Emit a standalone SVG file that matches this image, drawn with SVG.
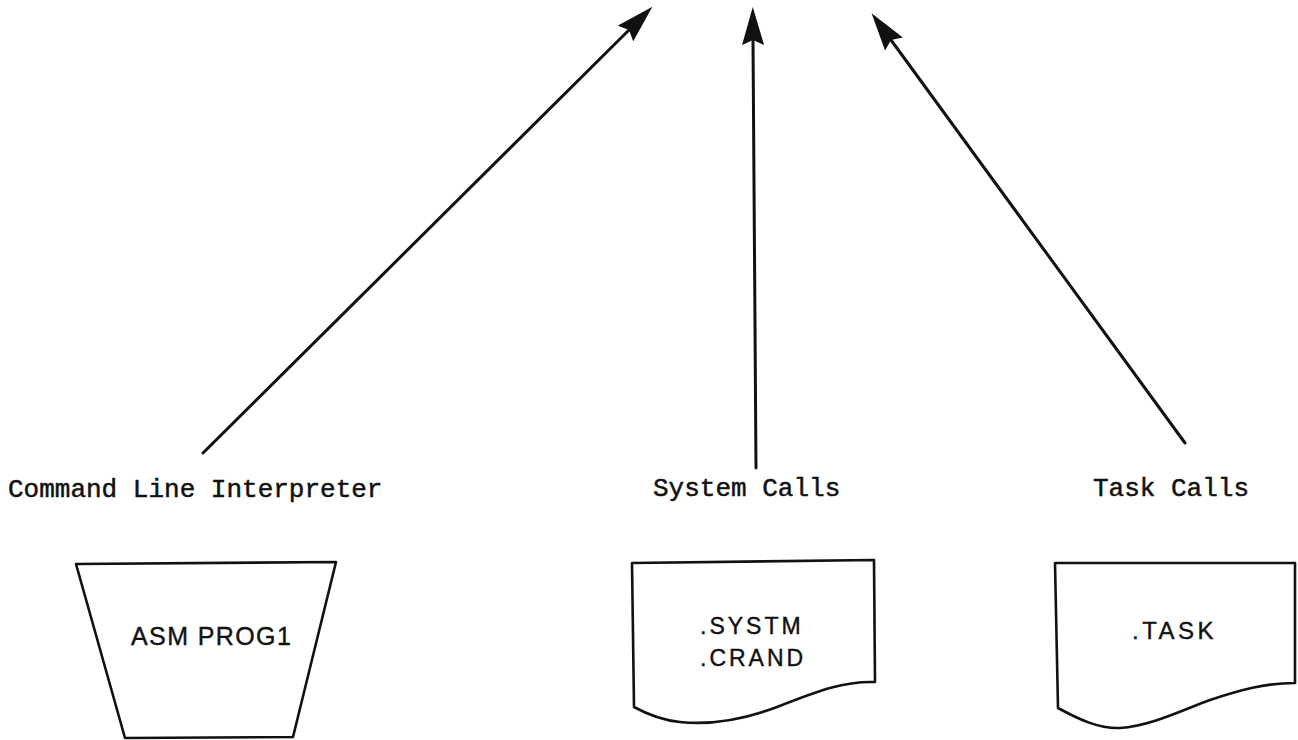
<svg xmlns="http://www.w3.org/2000/svg" width="1298" height="740" viewBox="0 0 1298 740">
  <style>
    .shape { fill: #fff; stroke: #111; stroke-width: 2.6; stroke-linejoin: round; }
    .link { fill: none; stroke: #111; stroke-width: 3; stroke-linecap: round; }
    .label { font-family: "Liberation Mono", "Courier New", monospace; font-size: 26px; fill: #111; stroke: #111; stroke-width: 0.5; }
    .content { font-family: "Liberation Sans", Arial, sans-serif; fill: #111; stroke: #111; stroke-width: 0.4; }
  </style>
  <defs>
    <marker id="head" viewBox="0 0 38 22" refX="5" refY="11" markerWidth="38" markerHeight="22" markerUnits="userSpaceOnUse" orient="auto">
      <path d="M0,0 L38,11 L0,22 L5,11 Z" fill="#111"/>
    </marker>
  </defs>
  <rect width="1298" height="740" fill="#fff"/>

  <!-- connectors -->
  <g id="connectors">
    <line class="link" x1="203" y1="453" x2="629" y2="30" marker-end="url(#head)"/>
    <line class="link" x1="756" y1="468" x2="753" y2="40" marker-end="url(#head)"/>
    <line class="link" x1="1185" y1="443" x2="891" y2="40" marker-end="url(#head)"/>
  </g>

  <!-- command line interpreter: manual input -->
  <g id="cli">
    <text class="label" x="8" y="497">Command Line Interpreter</text>
    <polygon class="shape" points="76,564 336,562 293,737 125,738"/>
    <text class="content" x="131" y="645" font-size="25" letter-spacing="1.4">ASM PROG1</text>
  </g>

  <!-- system calls: document -->
  <g id="system-calls">
    <text class="label" x="653" y="496">System Calls</text>
    <path class="shape" d="M632,563 L874,560 L875,682 C845,681 820,690 777,707 C740,721 710,725 680,722 C660,720 645,713 634,707 Z"/>
    <text class="content" x="700" y="634" font-size="23" letter-spacing="3">.SYSTM</text>
    <text class="content" x="700" y="666" font-size="23" letter-spacing="3">.CRAND</text>
  </g>

  <!-- task calls: document -->
  <g id="task-calls">
    <text class="label" x="1093" y="496">Task Calls</text>
    <path class="shape" d="M1055,563 L1295,563 L1295,683 C1265,683 1240,690 1210,700 C1180,711 1150,726 1120,728 C1100,729 1080,720 1058,708 Z"/>
    <text class="content" x="1132" y="639" font-size="24" letter-spacing="3.5">.TASK</text>
  </g>
</svg>
